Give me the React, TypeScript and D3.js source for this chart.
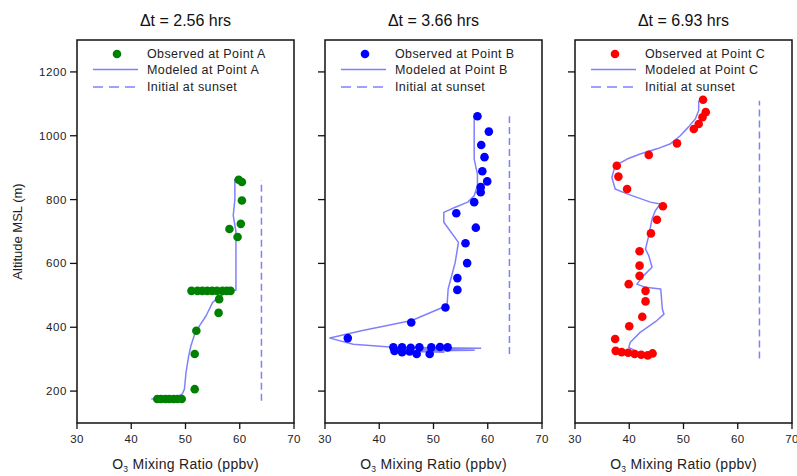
import React from "react";
import * as d3 from "d3";

// ---------- data ----------
const panelTitles = ["\u0394t = 2.56 hrs", "\u0394t = 3.66 hrs", "\u0394t = 6.93 hrs"];
const pointNames = ["A", "B", "C"];
const obsColors = ["#008000", "#0000ff", "#ff0000"];
const xTicks = [30, 40, 50, 60, 70];
const yTicks = [200, 400, 600, 800, 1000, 1200];

// Panel A
const aObsX = [59.8, 60.4, 60.4, 60.2, 59.6, 58.1, 51.1, 52.2, 53.1, 54.0, 54.9, 55.8, 56.8, 57.6, 58.3, 56.2, 56.1, 52.0, 51.7, 51.7, 44.8, 45.5, 46.3, 47.0, 47.8, 48.5, 49.3];
const aObsAlt = [862, 855, 797, 724, 683, 708, 514, 514, 514, 514, 514, 514, 514, 514, 514, 488, 445, 389, 316, 206, 175, 175, 175, 175, 175, 175, 175];
const aModX = [59.1, 59.1, 58.8, 59.3, 59.3, 50.7, 57.5, 56.8, 55.0, 53.8, 52.6, 51.7, 51.0, 50.6, 50.1, 49.8, 49.4, 48.3, 43.7];
const aModAlt = [865, 800, 750, 700, 516, 514, 510, 501, 478, 436, 405, 379, 342, 311, 259, 206, 191, 180, 175];
const aInitX = [64, 64];
const aInitAlt = [170, 860];

// Panel B
const bObsX = [58.1, 60.2, 58.8, 59.4, 59.0, 59.9, 58.7, 58.7, 57.5, 54.2, 57.8, 55.9, 56.2, 54.4, 54.4, 52.2, 45.9, 34.2, 42.6, 44.2, 45.8, 47.4, 49.6, 51.2, 52.6, 42.8, 44.2, 45.6, 46.9, 49.3];
const bObsAlt = [1061, 1013, 971, 933, 889, 857, 839, 823, 792, 757, 712, 663, 601, 554, 517, 462, 415, 366, 337, 337, 336, 337, 337, 338, 337, 326, 322, 324, 316, 316];
const bModX = [57.5, 57.5, 58.1, 58.1, 57.5, 56.3, 54.0, 51.9, 51.9, 54.6, 54.0, 52.7, 52.5, 46.0, 36.7, 30.9, 35.2, 42.6, 58.7, 48.0, 57.5, 44.0, 52.0];
const bModAlt = [1061, 927, 880, 844, 812, 792, 776, 760, 729, 666, 603, 520, 468, 421, 389, 366, 347, 337, 334, 331, 328, 325, 322];
const bInitX = [64, 64];
const bInitAlt = [316, 1061];

// Panel C
const cObsX = [53.6, 54.1, 53.5, 52.8, 51.9, 48.8, 43.6, 37.7, 38.0, 39.6, 46.2, 45.1, 44.0, 41.9, 41.9, 41.9, 39.9, 43.0, 43.0, 42.4, 40.0, 37.4, 37.5, 38.6, 39.8, 41.0, 42.2, 43.4, 44.3];
const cObsAlt = [1113, 1074, 1058, 1037, 1021, 976, 940, 906, 872, 833, 779, 737, 694, 638, 593, 561, 535, 514, 481, 433, 403, 363, 326, 322, 320, 316, 314, 312, 318];
const cModX = [52.8, 52.8, 52.2, 50.9, 49.4, 47.5, 45.1, 42.0, 39.6, 37.4, 36.8, 37.4, 39.6, 43.9, 45.7, 44.8, 44.2, 43.6, 43.0, 43.6, 44.2, 42.6, 41.4, 43.0, 45.8, 46.1, 46.4, 45.1, 42.0, 40.2, 39.9, 41.7, 43.4, 42.5, 43.8];
const cModAlt = [1110, 1079, 1053, 1027, 1000, 974, 959, 943, 927, 906, 870, 833, 818, 792, 786, 765, 739, 688, 645, 624, 588, 561, 535, 525, 520, 457, 441, 421, 384, 353, 337, 321, 316, 312, 318];
const cInitX = [64, 64];
const cInitAlt = [302, 1110];

const panels = [
  { obsX: aObsX, obsAlt: aObsAlt, modX: aModX, modAlt: aModAlt, initX: aInitX, initAlt: aInitAlt },
  { obsX: bObsX, obsAlt: bObsAlt, modX: bModX, modAlt: bModAlt, initX: bInitX, initAlt: bInitAlt },
  { obsX: cObsX, obsAlt: cObsAlt, modX: cModX, modAlt: cModAlt, initX: cInitX, initAlt: cInitAlt },
];

// ---------- layout ----------
const W = 797;
const H = 476;
const panelLefts = [77, 325, 575];
const panelW = 217;
const top = 40;
const bottom = 423;
const modelColor = "#8080ff";
const font = "'Liberation Sans', Arial, sans-serif";

const y = d3.scaleLinear().domain([100, 1300]).range([bottom, top]);

function Panel({ idx }: { idx: number }) {
  const left = panelLefts[idx];
  const x = d3.scaleLinear().domain([30, 70]).range([left, left + panelW]);
  const p = panels[idx];
  const line = d3
    .line<[number, number]>()
    .x((d) => x(d[0]))
    .y((d) => y(d[1]));
  const modPts: [number, number][] = p.modX.map((v, i) => [v, p.modAlt[i]]);
  const initPts: [number, number][] = p.initX.map((v, i) => [v, p.initAlt[i]]);
  const cx = left + panelW / 2;
  const lgX = left + 16;
  return (
    <g>
      <text x={cx} y={26} textAnchor="middle" fontSize={16} fontFamily={font} fill="#111">
        {panelTitles[idx]}
      </text>
      {/* init dashed */}
      <path d={line(initPts) || ""} fill="none" stroke={modelColor} strokeWidth={1.5} strokeDasharray="7,4" />
      {/* model */}
      <path d={line(modPts) || ""} fill="none" stroke={modelColor} strokeWidth={1.5} strokeLinejoin="round" />
      {/* observed */}
      {p.obsX.map((v, i) => (
        <circle key={i} cx={x(v)} cy={y(p.obsAlt[i])} r={4.3} fill={obsColors[idx]} />
      ))}
      {/* frame */}
      <rect x={left} y={top} width={panelW} height={bottom - top} fill="none" stroke="#111" strokeWidth={1.5} />
      {/* y ticks */}
      {yTicks.map((t) => (
        <g key={t}>
          <line x1={left - 7} x2={left} y1={y(t)} y2={y(t)} stroke="#111" strokeWidth={1.3} />
          {idx === 0 && (
            <text x={left - 10} y={y(t) + 4} textAnchor="end" fontSize={11.5} fontFamily={font} fill="#222" letterSpacing={0.6}>
              {t}
            </text>
          )}
        </g>
      ))}
      {/* x ticks */}
      {xTicks.map((t) => (
        <g key={t}>
          <line x1={x(t)} x2={x(t)} y1={bottom} y2={bottom + 6} stroke="#111" strokeWidth={1.3} />
          <text x={x(t)} y={bottom + 20} textAnchor="middle" fontSize={11.5} fontFamily={font} fill="#222" letterSpacing={0.4}>
            {t}
          </text>
        </g>
      ))}
      <text x={cx} y={469} textAnchor="middle" fontSize={14} fontFamily={font} fill="#222" letterSpacing={0.3}>
        O<tspan fontSize={8.5} dy={3}>3</tspan>
        <tspan dy={-3}> Mixing Ratio (ppbv)</tspan>
      </text>
      {/* legend */}
      <circle cx={left + 40} cy={54} r={4.3} fill={obsColors[idx]} />
      <text x={left + 70} y={58} fontSize={12.5} fontFamily={font} fill="#222" letterSpacing={0.4}>
        {`Observed at Point ${pointNames[idx]}`}
      </text>
      <line x1={lgX} x2={lgX + 45} y1={69.5} y2={69.5} stroke={modelColor} strokeWidth={1.5} />
      <text x={left + 70} y={73.5} fontSize={12.5} fontFamily={font} fill="#222" letterSpacing={0.4}>
        {`Modeled at Point ${pointNames[idx]}`}
      </text>
      <line x1={lgX} x2={lgX + 45} y1={87} y2={87} stroke={modelColor} strokeWidth={1.5} strokeDasharray="10,6" />
      <text x={left + 70} y={91} fontSize={12.5} fontFamily={font} fill="#222" letterSpacing={0.4}>
        Initial at sunset
      </text>
    </g>
  );
}

export default function App() {
  return (
    <svg width={W} height={H} style={{ position: "absolute", left: 0, top: 0, background: "#fff" }}>
      <rect x={0} y={0} width={W} height={H} fill="#fff" />
      {[0, 1, 2].map((i) => (
        <Panel key={i} idx={i} />
      ))}
      <text
        transform={`translate(22, ${(top + bottom) / 2}) rotate(-90)`}
        textAnchor="middle"
        fontSize={13}
        fontFamily={font}
        fill="#222"
      >
        Altitude MSL (m)
      </text>
    </svg>
  );
}
